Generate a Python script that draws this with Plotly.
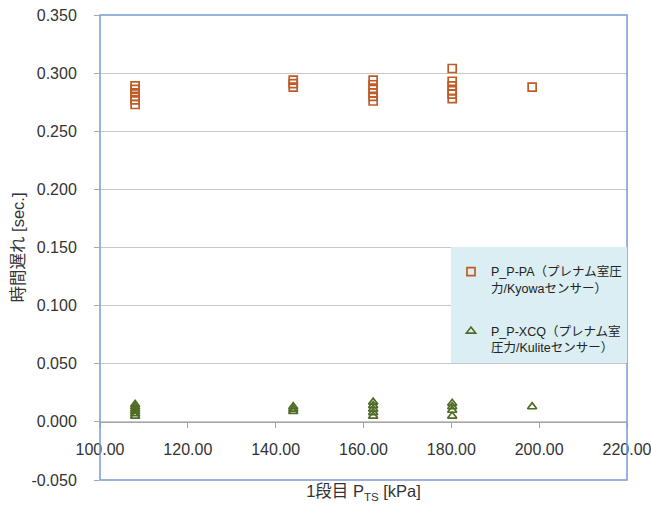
import plotly.graph_objects as go

# Data
pa_x = [108.0]*6 + [144.0]*3 + [162.2]*6 + [180.2]*6 + [198.4]
pa_y = [0.273, 0.277, 0.280, 0.283, 0.286, 0.289,
        0.288, 0.291, 0.294,
        0.276, 0.280, 0.283, 0.286, 0.290, 0.294,
        0.278, 0.282, 0.285, 0.289, 0.293, 0.304,
        0.288]
xcq_x = [108.0]*6 + [144.0]*3 + [162.2]*5 + [180.2]*4 + [198.4]
xcq_y = [0.005, 0.007, 0.009, 0.011, 0.013, 0.015,
         0.009, 0.011, 0.013,
         0.005, 0.008, 0.011, 0.014, 0.017,
         0.005, 0.010, 0.013, 0.016,
         0.013]

y_tickvals = [-0.05, 0.0, 0.05, 0.10, 0.15, 0.20, 0.25, 0.30, 0.35]
y_ticktext = ["-0.050", "0.000", "0.050", "0.100", "0.150", "0.200",
              "0.250", "0.300", "0.350"]

pa_name = "P_P-PA（プレナム室圧<br>力/Kyowaセンサー）"
xcq_name = "P_P-XCQ（プレナム室<br>圧力/Kuliteセンサー）"

x_range = [100, 220]
y_range = [-0.05, 0.35]

FONT = "Liberation Sans, Noto Sans CJK JP, sans-serif"

fig = go.Figure()
fig.add_trace(go.Scatter(
    x=pa_x, y=pa_y, mode="markers", name=pa_name, legendgroup="pa",
    marker=dict(symbol="square-open", size=8, color="#BE5B26",
                line=dict(width=1.7, color="#BE5B26"))))
fig.add_trace(go.Scatter(
    x=xcq_x, y=xcq_y, mode="markers", name=xcq_name, legendgroup="xcq",
    marker=dict(symbol="triangle-up-open", size=8, color="#4F6B25",
                line=dict(width=1.7, color="#4F6B25"))))

zero_pos = (0 - y_range[0]) / (y_range[1] - y_range[0])

fig.update_layout(
    width=651, height=517,
    margin=dict(l=100, r=24, t=15, b=37, autoexpand=False),
    paper_bgcolor="white", plot_bgcolor="white",
    font=dict(family=FONT, size=14, color="#333333"),
    showlegend=True,
    legend=dict(x=1.0, xanchor="right", y=0.502, yanchor="top",
                bgcolor="#DAEEF3", borderwidth=0,
                font=dict(size=12.5, color="#222222"),
                itemwidth=30, valign="top", tracegroupgap=24,
                title=dict(text=" ", font=dict(size=8))),
    xaxis=dict(range=x_range, dtick=20, tick0=100, tickformat=".2f",
               showgrid=False, zeroline=False, automargin=False,
               anchor="free", position=zero_pos,
               showline=True, linecolor="#A6A6A6", linewidth=1,
               ticks="outside", ticklen=5, tickcolor="#A6A6A6",
               ticklabelstandoff=8, ticklabeloverflow="allow",
               tickfont=dict(size=16, color="#333333"),
               title=dict(text="1段目 P<sub>TS</sub> [kPa]", standoff=28,
                          font=dict(size=16.5, color="#333333"))),
    yaxis=dict(range=y_range, tickmode="array",
               tickvals=y_tickvals, ticktext=y_ticktext,
               showgrid=True, gridcolor="#C8C8C8", gridwidth=1,
               zeroline=False, showline=False, automargin=False,
               ticks="outside", ticklen=5, tickcolor="#A6A6A6",
               ticklabelstandoff=14,
               tickfont=dict(size=16, color="#333333"),
               title=dict(text="時間遅れ [sec.]", standoff=2,
                          font=dict(size=16.5, color="#333333"))),
)

fig.add_shape(type="rect", xref="paper", yref="paper", x0=0, x1=1, y0=0, y1=1,
              line=dict(color="#7A9BD3", width=1.5), layer="above")

fig.write_html("out.html")
